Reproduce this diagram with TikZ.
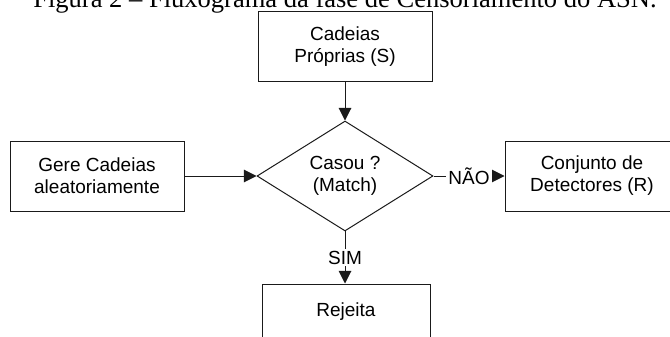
\documentclass[tikz,border=0pt]{standalone}
\usepackage{fontspec}
\setmainfont{Liberation Sans}
\newfontfamily\tituloserif{Liberation Serif}
\usetikzlibrary{shapes.geometric,arrows.meta}
\definecolor{FluxLine}{HTML}{1A1A1A}

\begin{document}
\begin{tikzpicture}[x=0.75pt,y=0.75pt,
  fluxtexto/.style={font=\fontsize{14.25}{16.5}\selectfont},
  fluxbox/.style={fluxtexto,draw=FluxLine,line width=0.75pt,minimum width=130.5pt,minimum height=52.5pt,align=center,inner sep=0pt},
  decisao/.style={fluxtexto,diamond,draw=FluxLine,line width=0.75pt,minimum width=132pt,minimum height=78.75pt,align=center,inner sep=0pt},
  seta/.style={draw=FluxLine,line width=0.75pt,-{Triangle[length=9.5pt,width=9.5pt]}},
  rotulo/.style={fluxtexto,fill=white,inner sep=1.5pt}]
\path[use as bounding box] (0,0) rectangle (670,336);
\clip (0,0) rectangle (670,336);
% titulo (cortado no topo)
\node[anchor=base,inner sep=0pt,font=\tituloserif\fontsize{19.9}{22}\selectfont] (titulo) at (345,328.7) {Figura 2 – Fluxograma da fase de Censoriamento do ASN.};
% caixas
\node[fluxbox] (proprias) at (345,289) {Cadeias\\Próprias (S)};
\node[decisao] (casou) at (345,160) {Casou ?\\(Match)};
\node[fluxbox] (gere) at (97,160) {Gere Cadeias\\aleatoriamente};
\node[fluxbox] (detectores) at (592,160) {Conjunto de\\Detectores (R)};
\node[fluxbox,minimum width=126pt,minimum height=42pt] (rejeita) at (346,24) {Rejeita};
% setas
\draw[seta] (proprias.south) -- (casou.north);
\draw[seta] (gere.east) -- (casou.west);
\draw[seta] (casou.east) -- node[rotulo] {NÃO} (detectores.west);
\draw[seta] (casou.south) -- node[rotulo] {SIM} (casou.south |- rejeita.north);
\end{tikzpicture}
\end{document}
